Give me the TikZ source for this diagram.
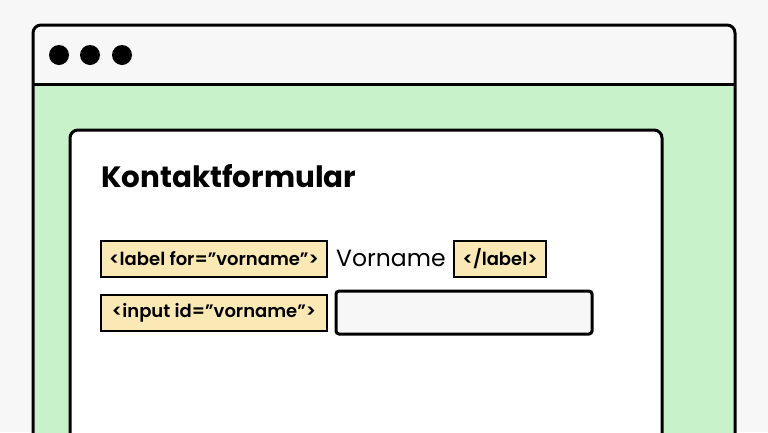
\documentclass[tikz,border=0pt]{standalone}
\usepackage{fontspec}
\setmainfont{Poppins}
\newfontfamily\tagfont{Poppins SemiBold}
\definecolor{bgc}{HTML}{F7F7F7}
\definecolor{greenc}{HTML}{C8F2C9}
\definecolor{tagc}{HTML}{FAE9B5}
\definecolor{inc}{HTML}{F7F7F7}
\begin{document}
\begin{tikzpicture}[x=1pt,y=-1pt,
  frame/.style={draw=black,line width=3pt},
  tagbox/.style={draw=black,line width=2.4pt,fill=tagc,minimum height=36pt,inner sep=0pt,font=\tagfont\fontsize{18}{20}\selectfont},
  dot/.style={circle,fill=black,minimum size=20pt,inner sep=0pt}]
\useasboundingbox (0,0) rectangle (768,432);
\fill[bgc] (0,0) rectangle (768,432);
\begin{scope}
\clip (0,0) rectangle (768,432);
% browser window
\fill[greenc] (34.5,84) rectangle (733.5,460);
\draw[frame,rounded corners=8pt] (33,460) -- (33,25) -- (735,25) -- (735,460);
\draw[frame] (33,84) -- (735,84);
% inner card
\draw[frame,fill=white,rounded corners=8pt] (70,460) -- (70,130) -- (662,130) -- (662,460);
\end{scope}
\node[dot] (d1) at (59,55) {};
\node[dot] (d2) at (90,55) {};
\node[dot] (d3) at (122,55) {};
\node[anchor=west,inner sep=0pt,font=\fontsize{29.4}{32}\selectfont\bfseries] (title) at (101,176) {Kontaktformular};
\node[tagbox,minimum width=226pt] (l1) at (214,259) {<label for=”vorname”>};
\node[anchor=west,inner sep=0pt,font=\fontsize{23.5}{28}\selectfont] (vn) at (336,258) {Vorname};
\node[tagbox,minimum width=92pt] (l2) at (500,259) {</label>};
\node[tagbox,minimum width=226pt] (l3) at (214,313) {<input id=”vorname”>};
\node[draw=black,line width=3pt,fill=inc,rounded corners=3pt,minimum width=256pt,minimum height=43pt,inner sep=0pt] (inp) at (464,312.5) {};
\end{tikzpicture}
\end{document}
